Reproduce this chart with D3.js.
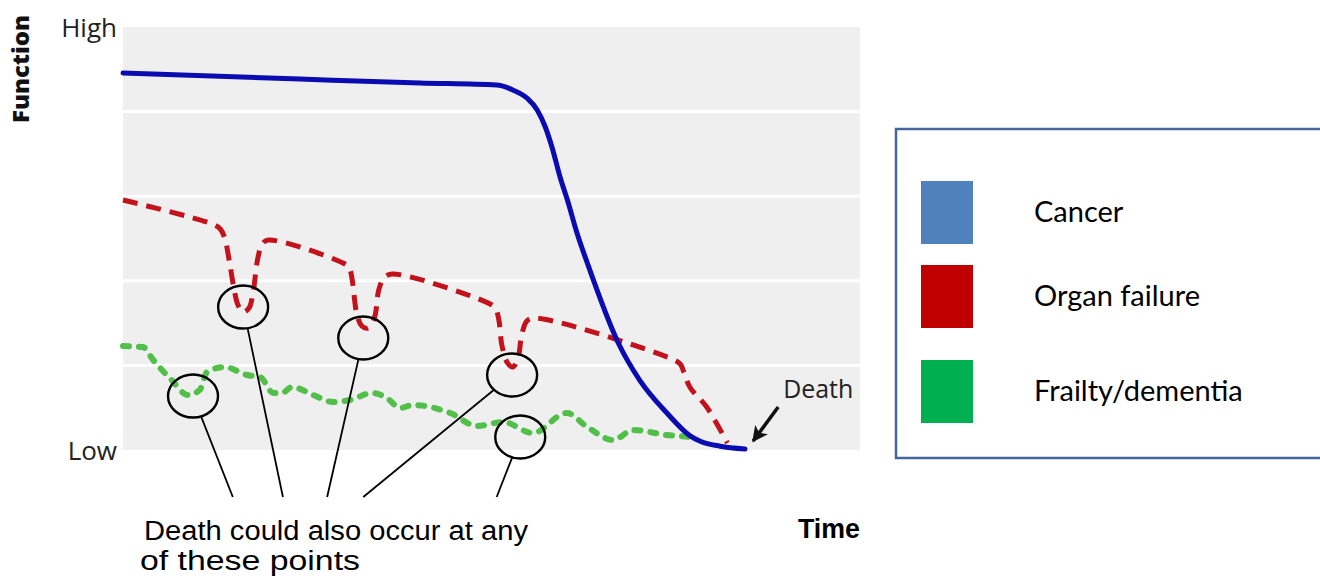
<!DOCTYPE html>
<html><head><meta charset="utf-8">
<script src="https://cdn.jsdelivr.net/npm/d3@7"></script>
<style>
html,body{margin:0;padding:0;background:#fff;}
svg{display:block;}
</style></head>
<body>
<svg id="chart" width="1320" height="576"></svg>
<script>
// ---- data (time 0..100, function 0=Low .. 5=High) ----
const yTickValues = [0, 5];
const yTickLabels = ["Low", "High"];
const seriesNames = ["Cancer", "Organ failure", "Frailty/dementia"];
const seriesColors = ["#4f81bd", "#c00000", "#00b050"];

const cancerT = [0, 24.0, 40.3, 50.7, 52.9, 54.8, 56.2, 57.3, 58.2, 59.3, 60.3, 61.6, 63.0, 67.2, 70.1, 73.8, 76.9, 78.4, 81.0, 84.4];
const cancerF = [4.456, 4.385, 4.338, 4.314, 4.255, 4.161, 4.019, 3.818, 3.582, 3.227, 2.955, 2.565, 2.21, 1.265, 0.827, 0.437, 0.17, 0.1, 0.045, 0.012];

const organT = [0, 12.1, 13.2, 13.8, 14.4, 15.1, 15.6, 16.3, 17.1, 17.6, 18.3, 18.9, 19.7, 29.85, 30.7, 31.1, 31.75, 32.4, 33.2, 34.1, 34.7, 35.4, 36.5, 49.25, 50.5, 51.0, 51.4, 52.1, 52.9, 53.6, 54.1, 54.8, 55.9, 74.5, 75.6, 76.1, 76.9, 79.2, 82.0];
const organF = [2.955, 2.671, 2.612, 2.506, 2.246, 1.891, 1.714, 1.631, 1.678, 1.832, 2.27, 2.435, 2.482, 2.21, 2.151, 2.01, 1.596, 1.466, 1.442, 1.56, 1.891, 2.033, 2.08, 1.749, 1.678, 1.537, 1.241, 1.04, 0.981, 1.087, 1.359, 1.525, 1.56, 1.076, 1.017, 0.922, 0.745, 0.508, 0.083];

const frailT = [0, 2.7, 4.1, 6.6, 8.8, 10.4, 11.4, 13.8, 16.8, 18.6, 20.4, 21.6, 22.9, 25.8, 28.5, 30.8, 33.8, 35.8, 37.6, 39.3, 44.4, 48.0, 51.6, 55.6, 60.2, 63.0, 66.5, 69.2, 73.8, 77.3];
const frailF = [1.229, 1.217, 1.064, 0.827, 0.65, 0.709, 0.922, 0.981, 0.887, 0.863, 0.674, 0.674, 0.745, 0.65, 0.567, 0.591, 0.674, 0.615, 0.496, 0.532, 0.437, 0.284, 0.331, 0.20, 0.437, 0.272, 0.118, 0.236, 0.177, 0.154];

// annotation circles (possible death points) and where their leaders end
const markT = [9.5, 16.3, 32.6, 52.8, 53.9];
const markF = [0.638, 1.69, 1.324, 0.887, 0.154];
const leaderEndT = [14.9, 21.7, 27.7, 32.6, 50.7];
const leaderEndF = [-0.556, -0.556, -0.556, -0.556, -0.556];

const deathArrowT = [88.9, 85.5];
const deathArrowF = [0.508, 0.106];

const noteLines = ["Death could also occur at any", "of these points"];

// ---- drawing ----
const svg = d3.select("#chart");
const x = d3.scaleLinear().domain([0, 100]).range([123, 860]);
const y = d3.scaleLinear().domain([0, 5]).range([450, 27]);

// background bands
svg.append("rect").attr("x", x(0)).attr("y", y(5))
  .attr("width", x(100) - x(0)).attr("height", y(0) - y(5)).attr("fill", "#efefef");
svg.selectAll("line.band").data([1, 2, 3, 4]).join("line").attr("class", "band")
  .attr("x1", x(0)).attr("x2", x(100)).attr("y1", d => y(d)).attr("y2", d => y(d))
  .attr("stroke", "#fff").attr("stroke-width", 3);

// y axis labels
const yAxis = d3.axisLeft(y).tickValues(yTickValues)
  .tickFormat((d, i) => yTickLabels[i]).tickSize(0).tickPadding(6);
const ga = svg.append("g").attr("transform", `translate(${x(0)},0)`).call(yAxis);
ga.select(".domain").remove();
ga.selectAll("text").attr("font-family", "'Open Sans', sans-serif")
  .attr("font-size", 26).attr("fill", "#222").attr("dy", "0.36em");

// axis titles
svg.append("text").attr("transform", "translate(29,69) rotate(-90)")
  .attr("text-anchor", "middle").attr("font-family", "'Open Sans', sans-serif")
  .attr("font-weight", 800).attr("font-size", 22).attr("textLength", 108)
  .attr("lengthAdjust", "spacingAndGlyphs").attr("fill", "#111").text("Function");
svg.append("text").attr("x", 798).attr("y", 538)
  .attr("font-family", "'Liberation Sans Narrow','Liberation Sans',Arial,sans-serif")
  .attr("font-weight", "bold").attr("font-size", 28).attr("textLength", 62)
  .attr("lengthAdjust", "spacingAndGlyphs").attr("fill", "#000").text("Time");

// lines
const zip = (a, b) => a.map((v, i) => [v, b[i]]);
const smooth = d3.line().x(d => x(d[0])).y(d => y(d[1])).curve(d3.curveMonotoneX);
const corner = d3.line().x(d => x(d[0])).y(d => y(d[1])).curve(d3.curveCatmullRom.alpha(0.5));

svg.append("path").datum(zip(frailT, frailF)).attr("d", smooth)
  .attr("fill", "none").attr("stroke", "#52bf4a").attr("stroke-width", 6)
  .attr("stroke-dasharray", "6,10").attr("stroke-linecap", "round");
svg.append("path").datum(zip(organT, organF)).attr("d", corner)
  .attr("fill", "none").attr("stroke", "#c3121b").attr("stroke-width", 5)
  .attr("stroke-dasharray", "15,9").attr("stroke-linejoin", "round");
svg.append("path").datum(zip(cancerT, cancerF)).attr("d", smooth)
  .attr("fill", "none").attr("stroke", "#0b0bb2").attr("stroke-width", 5)
  .attr("stroke-linecap", "round");

// annotation ellipses and leaders
const rx = 25, ry = 21.5;
markT.forEach((t, i) => {
  const cx = x(t), cy = y(markF[i]);
  const ex = x(leaderEndT[i]), ey = y(leaderEndF[i]);
  const dx = ex - cx, dy = ey - cy;
  const s = 1 / Math.sqrt((dx / rx) ** 2 + (dy / ry) ** 2);
  svg.append("ellipse").attr("cx", cx).attr("cy", cy).attr("rx", rx).attr("ry", ry)
    .attr("fill", "none").attr("stroke", "#000").attr("stroke-width", 2.4);
  svg.append("line").attr("x1", cx + dx * s).attr("y1", cy + dy * s)
    .attr("x2", ex).attr("y2", ey).attr("stroke", "#000").attr("stroke-width", 1.8);
});

// death arrow
svg.append("defs").append("marker").attr("id", "ah").attr("viewBox", "0 0 10 10")
  .attr("refX", 9).attr("refY", 5).attr("markerWidth", 4.5).attr("markerHeight", 4.5)
  .attr("orient", "auto").append("path").attr("d", "M0,0 L10,5 L0,10 L2.5,5 Z").attr("fill", "#111");
svg.append("line").attr("x1", x(deathArrowT[0])).attr("y1", y(deathArrowF[0]))
  .attr("x2", x(deathArrowT[1])).attr("y2", y(deathArrowF[1]))
  .attr("stroke", "#111").attr("stroke-width", 3.5).attr("marker-end", "url(#ah)");
svg.append("text").attr("x", x(deathArrowT[0]) + 5).attr("y", y(deathArrowF[0]) - 9)
  .attr("font-family", "'Open Sans', sans-serif").attr("font-size", 25)
  .attr("fill", "#222").attr("textLength", 70).attr("lengthAdjust", "spacingAndGlyphs").text("Death");

// note text
const noteLen = [384, 220];
svg.selectAll("text.note").data(noteLines).join("text").attr("class", "note")
  .attr("x", (d, i) => i === 0 ? 144 : 140).attr("y", (d, i) => 540 + i * 30)
  .attr("font-family", "'Liberation Sans Narrow','Liberation Sans',Arial,sans-serif")
  .attr("font-size", 27).attr("fill", "#000")
  .attr("textLength", (d, i) => noteLen[i]).attr("lengthAdjust", "spacingAndGlyphs")
  .text(d => d);

// legend
const lg = svg.append("g");
lg.append("rect").attr("x", 896).attr("y", 129).attr("width", 440).attr("height", 329)
  .attr("fill", "#fff").attr("stroke", "#43679b").attr("stroke-width", 2.5);
const legY = [181, 265, 360];
seriesNames.forEach((n, i) => {
  lg.append("rect").attr("x", 921).attr("y", legY[i]).attr("width", 52).attr("height", 63)
    .attr("fill", seriesColors[i]);
  lg.append("text").attr("x", 1034).attr("y", legY[i] + 41)
    .attr("font-family", "Lato, 'Open Sans', sans-serif").attr("font-size", 29)
    .attr("fill", "#000").text(n);
});
</script>
</body></html>
